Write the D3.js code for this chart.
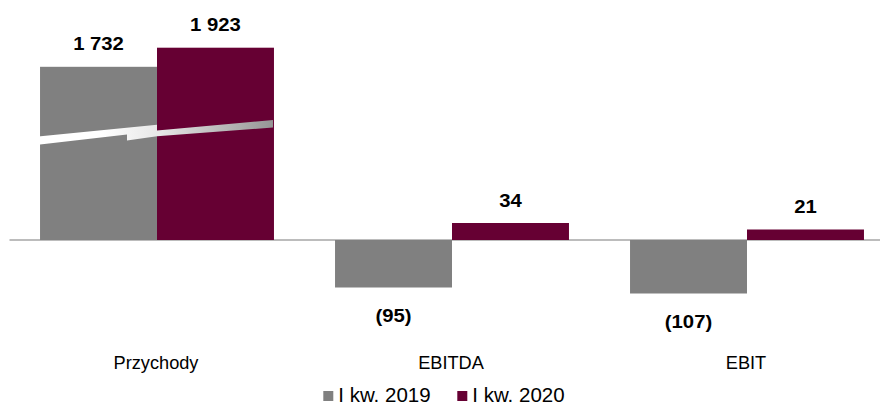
<!DOCTYPE html>
<html>
<head>
<meta charset="utf-8">
<script src="https://cdn.jsdelivr.net/npm/d3@7"></script>
<style>
  html, body { margin: 0; padding: 0; background: #ffffff; }
  svg { display: block; font-family: Arial, "Liberation Sans", sans-serif; }
</style>
</head>
<body>
<svg id="chart" width="880" height="405"></svg>
<script>
// Categories and series
const categories = ["Przychody", "EBITDA", "EBIT"];
const seriesNames = ["I kw. 2019", "I kw. 2020"];
const values2019 = [1732, -95, -107];
const values2020 = [1923, 34, 21];
const seriesColors = ["#808080", "#660033"];

const width = 880, height = 405;
const zeroY = 240;

const svg = d3.select("#chart");

// Category bands (outer padding is half of the inner padding)
const x0 = d3.scaleBand()
  .domain(categories)
  .range([9.5, 894.5])
  .paddingInner(0.207)
  .paddingOuter(0.1035);

const x1 = d3.scaleBand()
  .domain(seriesNames)
  .range([0, x0.bandwidth()]);

// Revenue is drawn on a compressed scale (with a break mark), results on a finer one
const yRev = d3.scaleLinear().domain([0, 2000]).range([zeroY, zeroY - 200]);
const yRes = d3.scaleLinear().domain([0, 200]).range([zeroY, zeroY - 100]);
const yFor = cat => (cat === "Przychody" ? yRev : yRes);

const rows = categories.map((c, i) => ({
  category: c,
  values: [
    { series: seriesNames[0], value: values2019[i], color: seriesColors[0] },
    { series: seriesNames[1], value: values2020[i], color: seriesColors[1] }
  ]
}));

// Number format: space as thousands separator, negatives in parentheses
const fmt = v => {
  const s = d3.format(",")(Math.abs(v)).replace(/,/g, " ");
  return v < 0 ? "(" + s + ")" : s;
};

// Zero line
svg.append("line")
  .attr("x1", 9.5).attr("x2", width)
  .attr("y1", yRes(0)).attr("y2", yRes(0))
  .attr("stroke", "#a6a6a6")
  .attr("stroke-width", 1.5);

const groups = svg.selectAll("g.cat")
  .data(rows)
  .join("g")
  .attr("class", "cat")
  .attr("transform", d => `translate(${x0(d.category)},0)`);

groups.selectAll("rect")
  .data(d => d.values.map(v => ({ ...v, category: d.category })))
  .join("rect")
  .attr("x", d => x1(d.series))
  .attr("width", x1.bandwidth())
  .attr("y", d => Math.min(yFor(d.category)(d.value), yFor(d.category)(0)))
  .attr("height", d => Math.abs(yFor(d.category)(d.value) - yFor(d.category)(0)))
  .attr("fill", d => d.color);

// Value labels
groups.selectAll("text.val")
  .data(d => d.values.map(v => ({ ...v, category: d.category })))
  .join("text")
  .attr("class", "val")
  .attr("transform", d => {
    const y = yFor(d.category)(d.value);
    const cx = x1(d.series) + x1.bandwidth() / 2;
    const ty = d.value >= 0 ? y - 16.5 : y + 34.5;
    return `translate(${cx},${ty}) scale(1.16,1)`;
  })
  .attr("text-anchor", "middle")
  .attr("font-size", 17.5)
  .attr("font-weight", "bold")
  .attr("fill", "#000")
  .text(d => fmt(d.value));

// Break mark across the revenue bars
const defs = svg.append("defs");
const gxL = x0("Przychody");
const gxR = gxL + x0.bandwidth();
const gxM = gxL + x1.bandwidth();
const grad = defs.append("linearGradient")
  .attr("id", "breakGrad")
  .attr("gradientUnits", "userSpaceOnUse")
  .attr("x1", gxL + 60).attr("x2", gxR).attr("y1", 0).attr("y2", 0);
grad.append("stop").attr("offset", 0).attr("stop-color", "#ffffff");
grad.append("stop").attr("offset", 0.35).attr("stop-color", "#e6e6e6");
grad.append("stop").attr("offset", 1).attr("stop-color", "#959595");

const by = yRev(1000); // anchor height of the break
const breakPts = [
  [gxL - 7, by - 3],
  [gxM, by - 15.3],
  [gxM, by - 9.5],
  [gxR - 1, by - 20],
  [gxR - 1, by - 12.5],
  [gxM, by - 3.8],
  [gxM - 30, by + 0.5],
  [gxM - 30, by - 5.5],
  [gxL, by + 4.5],
  [gxL - 5, by + 3.5]
];
svg.append("path")
  .attr("d", d3.line()(breakPts) + "Z")
  .attr("fill", "url(#breakGrad)");

// Category labels
svg.selectAll("text.cat")
  .data(categories)
  .join("text")
  .attr("class", "cat")
  .attr("transform", d => `translate(${x0(d) + x0.bandwidth() / 2 - 1},369) scale(1.04,1)`)
  .attr("text-anchor", "middle")
  .attr("font-size", 17.5)
  .attr("fill", "#000")
  .text(d => d);

// Legend
const legendX = [323.3, 457.3];
const legend = svg.selectAll("g.leg")
  .data(seriesNames)
  .join("g")
  .attr("class", "leg")
  .attr("transform", (d, i) => `translate(${legendX[i]},391)`);
legend.append("rect")
  .attr("width", 10).attr("height", 10)
  .attr("fill", (d, i) => seriesColors[i]);
legend.append("text")
  .attr("x", 15)
  .attr("y", 10.5)
  .attr("font-size", 20.5)
  .attr("fill", "#000")
  .text(d => d);
</script>
</body>
</html>
